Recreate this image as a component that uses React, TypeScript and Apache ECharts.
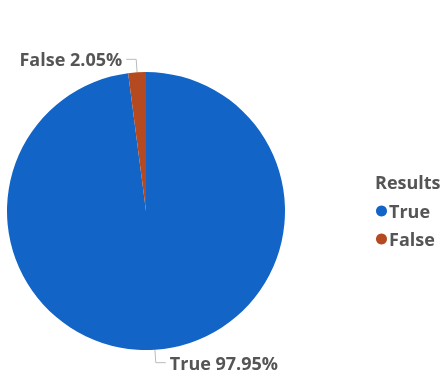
import React, { useEffect, useRef } from "react";
import * as echarts from "echarts";

const categories = ["True", "False"];
const values = [97.95, 2.05];
const colors = ["#1265C7", "#B5491F"];
const legendTitle = "Results";

const FONT = "'Open Sans', 'Noto Sans', sans-serif";

export default function App() {
  const ref = useRef<HTMLDivElement>(null);
  useEffect(() => {
    const chart = echarts.init(ref.current!, undefined, { renderer: "svg" });
    chart.setOption({
      animation: false,
      title: {
        text: legendTitle,
        left: 370,
        top: 168,
        textStyle: { fontFamily: FONT, fontWeight: "bold", fontSize: 18, color: "#555555" },
      },
      legend: {
        orient: "vertical",
        left: 371,
        top: 197,
        icon: "circle",
        itemWidth: 11,
        itemHeight: 11,
        itemGap: 10,
        data: categories,
        textStyle: { fontFamily: FONT, fontWeight: "bold", fontSize: 18, color: "#555555", padding: [0, 0, 0, -3] },
      },
      series: [
        {
          type: "pie",
          center: [146, 211],
          radius: [0, 139],
          startAngle: 90,
          clockwise: true,
          data: categories.map((c, i) => ({ name: c, value: values[i], itemStyle: { color: colors[i] } })),
          label: {
            show: true,
            position: "outside",
            formatter: (p: any) => `${p.name} ${p.value.toFixed(2)}%`,
            fontFamily: FONT,
            fontWeight: "bold",
            fontSize: 18,
            color: "#555555",
            distanceToLabelLine: 4,
          },
          labelLine: {
            show: true,
            length: 13,
            length2: 10,
            lineStyle: { color: "#BBBBBB", width: 1 },
          },
          emphasis: { disabled: true },
        },
      ],
    });
    return () => chart.dispose();
  }, []);
  return <div ref={ref} style={{ position: "fixed", left: 0, top: 0, width: 441, height: 379 }} />;
}
